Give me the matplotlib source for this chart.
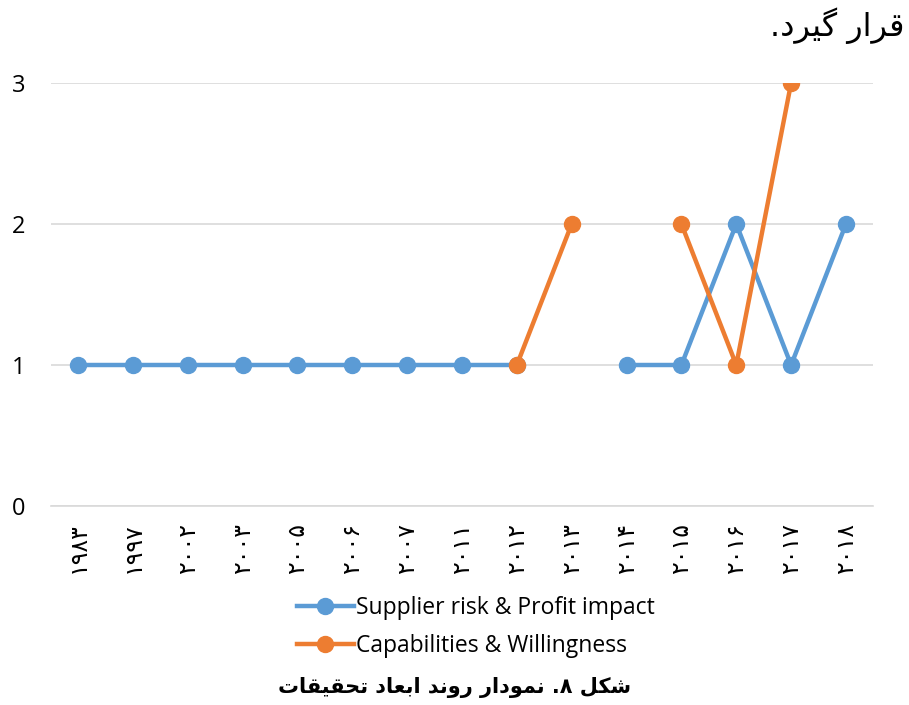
import numpy as np
import matplotlib
matplotlib.use("Agg")
import matplotlib.pyplot as plt
from matplotlib.lines import Line2D

# Publication years (Persian digits) and the number of studies per dimension
years = ["۱۹۸۳", "۱۹۹۷", "۲۰۰۲", "۲۰۰۳", "۲۰۰۵", "۲۰۰۶", "۲۰۰۷", "۲۰۱۱",
         "۲۰۱۲", "۲۰۱۳", "۲۰۱۴", "۲۰۱۵", "۲۰۱۶", "۲۰۱۷", "۲۰۱۸"]
supplier_risk = [1, 1, 1, 1, 1, 1, 1, 1, 1, np.nan, 1, 1, 2, 1, 2]
capabilities = [np.nan, np.nan, np.nan, np.nan, np.nan, np.nan, np.nan, np.nan,
                1, 2, np.nan, 2, 1, 3, np.nan]
series_names = ["Supplier risk & Profit impact", "Capabilities & Willingness"]
y_ticks = [0, 1, 2, 3]

# Persian text in visual (left-to-right) order with contextual glyph forms
caption = "ﺕﺎﻘﯿﻘﺤﺗ ﺩﺎﻌﺑﺍ ﺪﻧﻭﺭ ﺭﺍﺩﻮﻤﻧ .۸ ﻞﮑﺷ"
top_text = ".ﺩﺮﯿﮔ ﺭﺍﺮﻗ"

blue = "#5B9BD5"
orange = "#ED7D31"
grid_c = "#D9D9D9"

fig = plt.figure(figsize=(9.09, 7.05), dpi=100)
ax = fig.add_axes([50.6 / 909, 1 - 506 / 705, 822.8 / 909, 423 / 705])

x = np.arange(len(years))
ax.plot(x, supplier_risk, color=blue, lw=3.2, marker="o", ms=11.5,
        mfc=blue, mec=blue, zorder=3, solid_capstyle="round")
ax.plot(x, capabilities, color=orange, lw=3.2, marker="o", ms=11.5,
        mfc=orange, mec=orange, zorder=4, solid_capstyle="round")

ax.set_xlim(-0.5, len(years) - 0.5)
ax.set_ylim(0, 3)
ax.set_yticks(y_ticks)
ax.set_yticklabels([str(v) for v in y_ticks], fontsize=17,
                   family=["Open Sans", "DejaVu Sans"], color="#000000")
ax.yaxis.grid(True, color=grid_c, lw=1.2)
ax.set_axisbelow(True)
for s in ["top", "right", "left"]:
    ax.spines[s].set_visible(False)
ax.spines["bottom"].set_color(grid_c)
ax.spines["bottom"].set_linewidth(1.2)
ax.tick_params(axis="y", length=0, pad=18)
ax.tick_params(axis="x", length=0, pad=12)
ax.set_xticks(x)
ax.set_xticklabels(years, rotation=90, fontsize=17, family=["DejaVu Sans"],
                   va="top", ha="center")

handles = [Line2D([0], [0], color=blue, lw=3.2, marker="o", ms=11.5),
           Line2D([0], [0], color=orange, lw=3.2, marker="o", ms=11.5)]
fig.legend(handles, series_names, loc="center", bbox_to_anchor=(476 / 909, 1 - 627 / 705),
           ncol=1, frameon=False, handlelength=2.5, handletextpad=0.1,
           labelspacing=0.62, prop={"family": ["Open Sans", "DejaVu Sans"], "size": 16.5})

fig.text(0.5, 1 - 688 / 705, caption, ha="center", va="center", fontsize=15,
         fontweight="bold", family=["DejaVu Sans"])
fig.text(905 / 909, 1 - 26 / 705, top_text, ha="right", va="center", fontsize=23,
         family=["DejaVu Sans"])

fig.savefig("out.png", dpi=100)
